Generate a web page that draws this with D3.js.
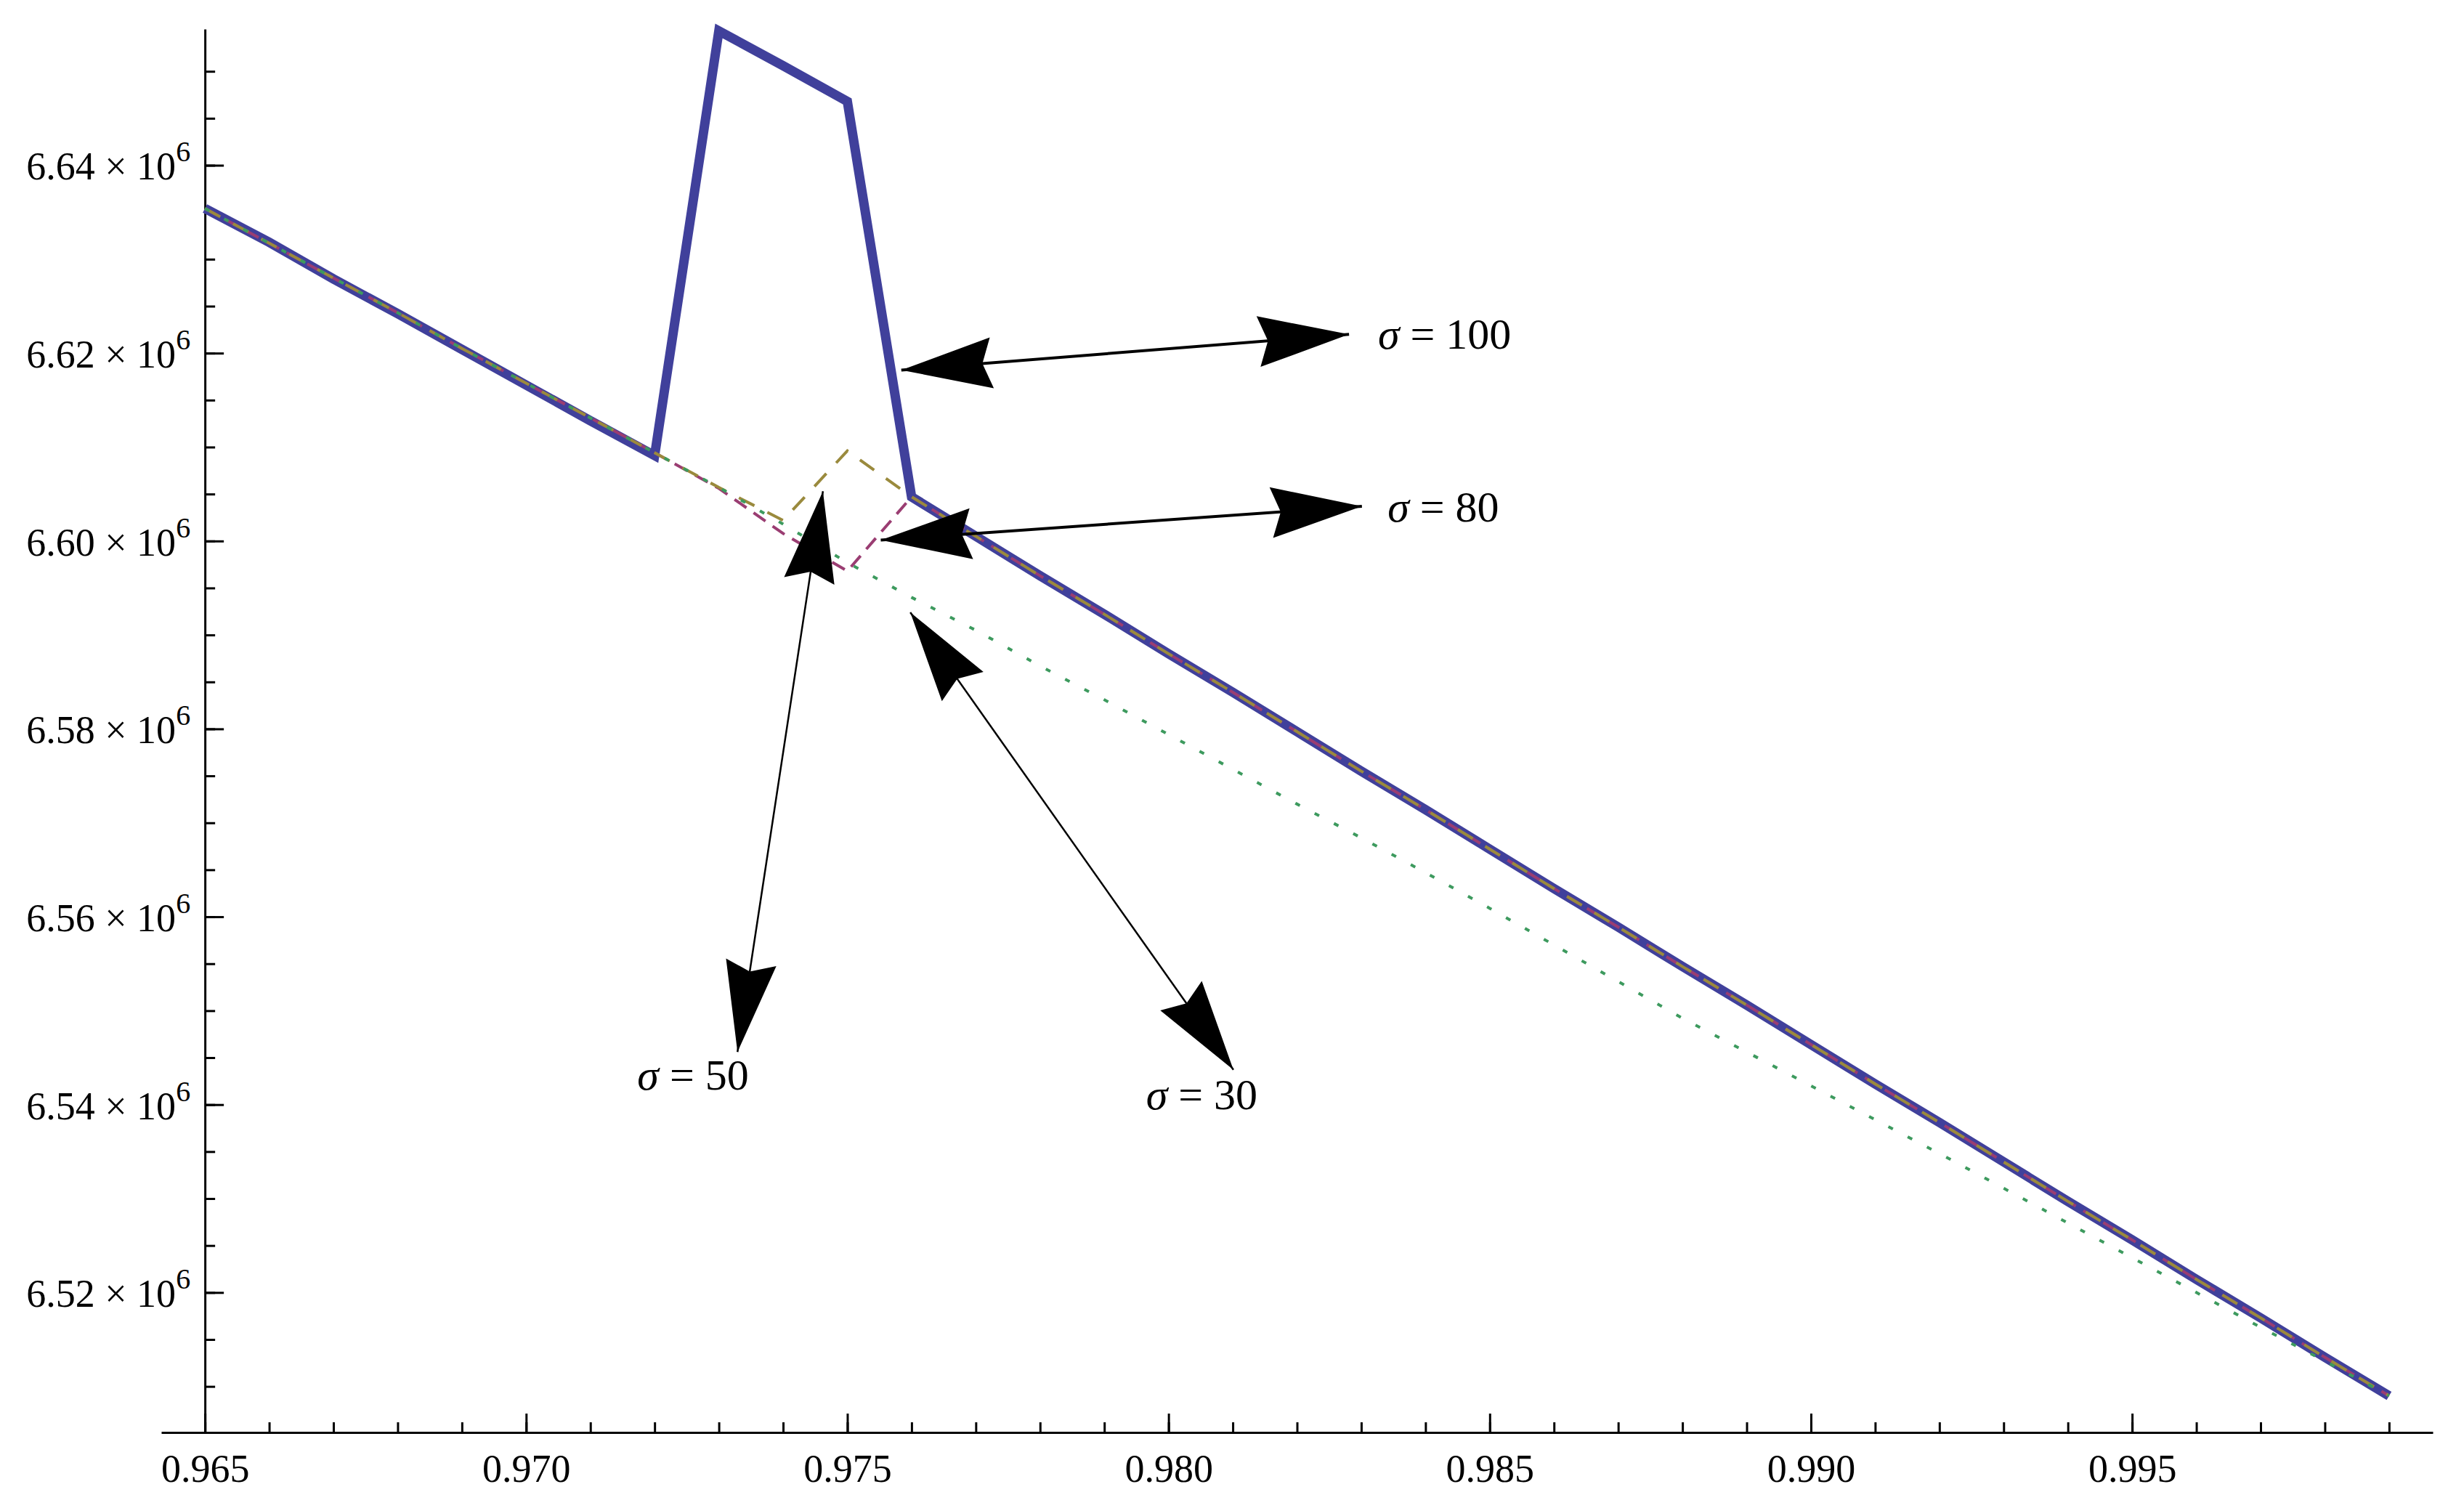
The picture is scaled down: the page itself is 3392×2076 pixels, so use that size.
<!DOCTYPE html>
<html>
<head>
<meta charset="utf-8">
<script src="https://cdn.jsdelivr.net/npm/d3@7"></script>
<style>
  body { margin: 0; background: #fff; }
  svg { display: block; background: #fff; }
</style>
</head>
<body>
<div id="chart"></div>
<script>
// x positions of the samples
const xValues = [0.965, 0.966, 0.967, 0.968, 0.969, 0.970, 0.971, 0.972, 0.973, 0.974,
  0.975, 0.976, 0.977, 0.978, 0.979, 0.980, 0.981, 0.982, 0.983, 0.984,
  0.985, 0.986, 0.987, 0.988, 0.989, 0.990, 0.991, 0.992, 0.993, 0.994,
  0.995, 0.996, 0.997, 0.998, 0.999]

// values in units of 10^6
const sigma100 = [6.6354, 6.6318, 6.6279, 6.6242, 6.6204, 6.6166, 6.6128, 6.6091, 6.6543, 6.6506,
  6.6468, 6.6047, 6.6005, 6.5963, 6.5922, 6.5880, 6.5839, 6.5797, 6.5755, 6.5714,
  6.5672, 6.5630, 6.5589, 6.5547, 6.5506, 6.5464, 6.5422, 6.5381, 6.5339, 6.5297,
  6.5256, 6.5214, 6.5173, 6.5131, 6.5090]
const sigma80 = [6.6354, 6.6317, 6.6280, 6.6243, 6.6205, 6.6168, 6.6131, 6.6094, 6.6056, 6.6008,
  6.5968, 6.6047, 6.6005, 6.5963, 6.5922, 6.5880, 6.5839, 6.5797, 6.5755, 6.5714,
  6.5672, 6.5630, 6.5589, 6.5547, 6.5506, 6.5464, 6.5422, 6.5381, 6.5339, 6.5297,
  6.5256, 6.5214, 6.5173, 6.5131, 6.5090]
const sigma50 = [6.6354, 6.6317, 6.6280, 6.6243, 6.6205, 6.6168, 6.6131, 6.6094, 6.6057, 6.6022,
  6.6096, 6.6047, 6.6005, 6.5963, 6.5922, 6.5880, 6.5839, 6.5797, 6.5755, 6.5714,
  6.5672, 6.5630, 6.5589, 6.5547, 6.5506, 6.5464, 6.5422, 6.5381, 6.5339, 6.5297,
  6.5256, 6.5214, 6.5173, 6.5131, 6.5090]
const sigma30 = [6.6354, 6.6317, 6.6280, 6.6243, 6.6205, 6.6168, 6.6131, 6.6094, 6.6057, 6.6018,
  6.5977, 6.5940, 6.5905, 6.5867, 6.5831, 6.5794, 6.5757, 6.5720, 6.5684, 6.5647,
  6.5609, 6.5570, 6.5531, 6.5492, 6.5456, 6.5420, 6.5384, 6.5348, 6.5311, 6.5274,
  6.5237, 6.5200, 6.5163, 6.5127, 6.5090]

const xTicks = [0.965, 0.970, 0.975, 0.980, 0.985, 0.990, 0.995]
const xMinorTicks = xValues
const yTicks = [6.52, 6.54, 6.56, 6.58, 6.60, 6.62, 6.64]
const yMinorTicks = [6.51, 6.515, 6.52, 6.525, 6.53, 6.535, 6.54, 6.545, 6.55, 6.555, 6.56, 6.565,
  6.57, 6.575, 6.58, 6.585, 6.59, 6.595, 6.60, 6.605, 6.61, 6.615, 6.62, 6.625, 6.63, 6.635,
  6.64, 6.645, 6.65]

// annotation arrows, endpoints in data coordinates
const arrowLabels = ['100', '80', '50', '30']
const arrowFrom = [[0.97584, 6.6182], [0.97552, 6.6001], [0.97462, 6.6053], [0.97598, 6.5924]]
const arrowTo = [[0.98281, 6.6220], [0.98301, 6.6037], [0.97329, 6.5456], [0.98101, 6.5437]]
const labelAt = [[0.98326, 6.6221], [0.98341, 6.6037], [0.97173, 6.5432], [0.97965, 6.5411]]

const config = {
  width: 3392,
  height: 2076,
  left: 222, right: 3349, top: 40, bottom: 1972,
  xDomain: [0.96432, 0.99968],
  yDomain: [6.5051, 6.6545],
  font: '"Liberation Serif", "Times New Roman", serif',
  series: [
    { values: sigma100, colour: '#40409b', width: 13, dash: null },
    { values: sigma80, colour: '#9a3d72', width: 4, dash: '20,12' },
    { values: sigma50, colour: '#9a8a3d', width: 4, dash: '24,20' },
    { values: sigma30, colour: '#3d9a5e', width: 4, dash: '7,23' }
  ],
  arrowWidth: [4, 4, 2.5, 2.5]
}

const x = d3.scaleLinear().domain(config.xDomain).range([config.left, config.right])
const y = d3.scaleLinear().domain(config.yDomain).range([config.bottom, config.top])
const axisX = x(0.965)

const svg = d3.select('#chart')
  .append('svg')
    .attr('width', config.width)
    .attr('height', config.height)
    .attr('viewBox', [0, 0, config.width, config.height])
    .style('font-family', config.font)

svg.append('defs')
  .append('marker')
    .attr('id', 'head')
    .attr('markerUnits', 'userSpaceOnUse')
    .attr('viewBox', '-130 -40 140 80')
    .attr('markerWidth', 140)
    .attr('markerHeight', 80)
    .attr('refX', 0)
    .attr('refY', 0)
    .attr('orient', 'auto-start-reverse')
  .append('path')
    .attr('d', 'M0,0 L-125,-35 L-112,0 L-125,35 Z')
    .attr('fill', '#000')

const styleAxis = g => g
  .attr('font-family', config.font)
  .call(g => g.selectAll('line, path').attr('stroke', '#000').attr('stroke-width', 3))

// x axis: major and minor ticks pointing up into the plot
svg.append('g')
    .attr('class', 'axis x')
    .attr('transform', `translate(0, ${config.bottom})`)
  .call(d3.axisBottom(x).tickValues(xTicks).tickSize(-26).tickSizeOuter(0).tickPadding(30)
    .tickFormat(d3.format('.3f')))
  .call(styleAxis)
  .call(g => g.selectAll('.tick text').attr('font-size', 54).attr('fill', '#000'))

svg.append('g')
    .attr('class', 'axis x minor')
    .attr('transform', `translate(0, ${config.bottom})`)
  .call(d3.axisBottom(x).tickValues(xMinorTicks).tickSize(-14).tickFormat(''))
  .call(styleAxis)
  .call(g => g.select('.domain').remove())

// y axis at x = 0.965
svg.append('g')
    .attr('class', 'axis y')
    .attr('transform', `translate(${axisX}, 0)`)
  .call(d3.axisLeft(y).tickValues(yTicks).tickSize(-26).tickSizeOuter(0).tickPadding(20))
  .call(styleAxis)
  .call(g => g.selectAll('.tick text')
    .attr('font-size', 54)
    .attr('fill', '#000')
    .attr('dy', '0.36em')
    .each(function(d) {
      const text = d3.select(this).text(null)
      text.append('tspan').text(`${d3.format('.2f')(d)} \u00d7 10`)
      text.append('tspan').attr('dy', -25).attr('font-size', 40).text('6')
    }))

svg.append('g')
    .attr('class', 'axis y minor')
    .attr('transform', `translate(${axisX}, 0)`)
  .call(d3.axisLeft(y).tickValues(yMinorTicks).tickSize(-14).tickFormat(''))
  .call(styleAxis)
  .call(g => g.select('.domain').remove())

// curves
const line = d3.line()
  .x((d, i) => x(xValues[i]))
  .y(d => y(d))

svg.append('g')
    .attr('class', 'series')
  .selectAll('path')
  .data(config.series)
  .join('path')
    .attr('d', d => line(d.values))
    .attr('fill', 'none')
    .attr('stroke', d => d.colour)
    .attr('stroke-width', d => d.width)
    .attr('stroke-dasharray', d => d.dash)
    .attr('stroke-linejoin', 'miter')
    .attr('stroke-miterlimit', 2)

// annotations
const notes = svg.append('g')
    .attr('class', 'annotations')
  .selectAll('g')
  .data(arrowLabels)
  .join('g')

notes.append('line')
    .attr('x1', (d, i) => x(arrowFrom[i][0]))
    .attr('y1', (d, i) => y(arrowFrom[i][1]))
    .attr('x2', (d, i) => x(arrowTo[i][0]))
    .attr('y2', (d, i) => y(arrowTo[i][1]))
    .attr('stroke', '#000')
    .attr('stroke-width', (d, i) => config.arrowWidth[i])
    .attr('marker-start', 'url(#head)')
    .attr('marker-end', 'url(#head)')

notes.append('text')
    .attr('x', (d, i) => x(labelAt[i][0]))
    .attr('y', (d, i) => y(labelAt[i][1]))
    .attr('dy', '0.35em')
    .attr('font-size', 60)
    .attr('fill', '#000')
  .call(t => t.append('tspan').attr('font-style', 'italic').text('\u03c3'))
  .call(t => t.append('tspan').text(d => ` = ${d}`))
</script>
</body>
</html>
